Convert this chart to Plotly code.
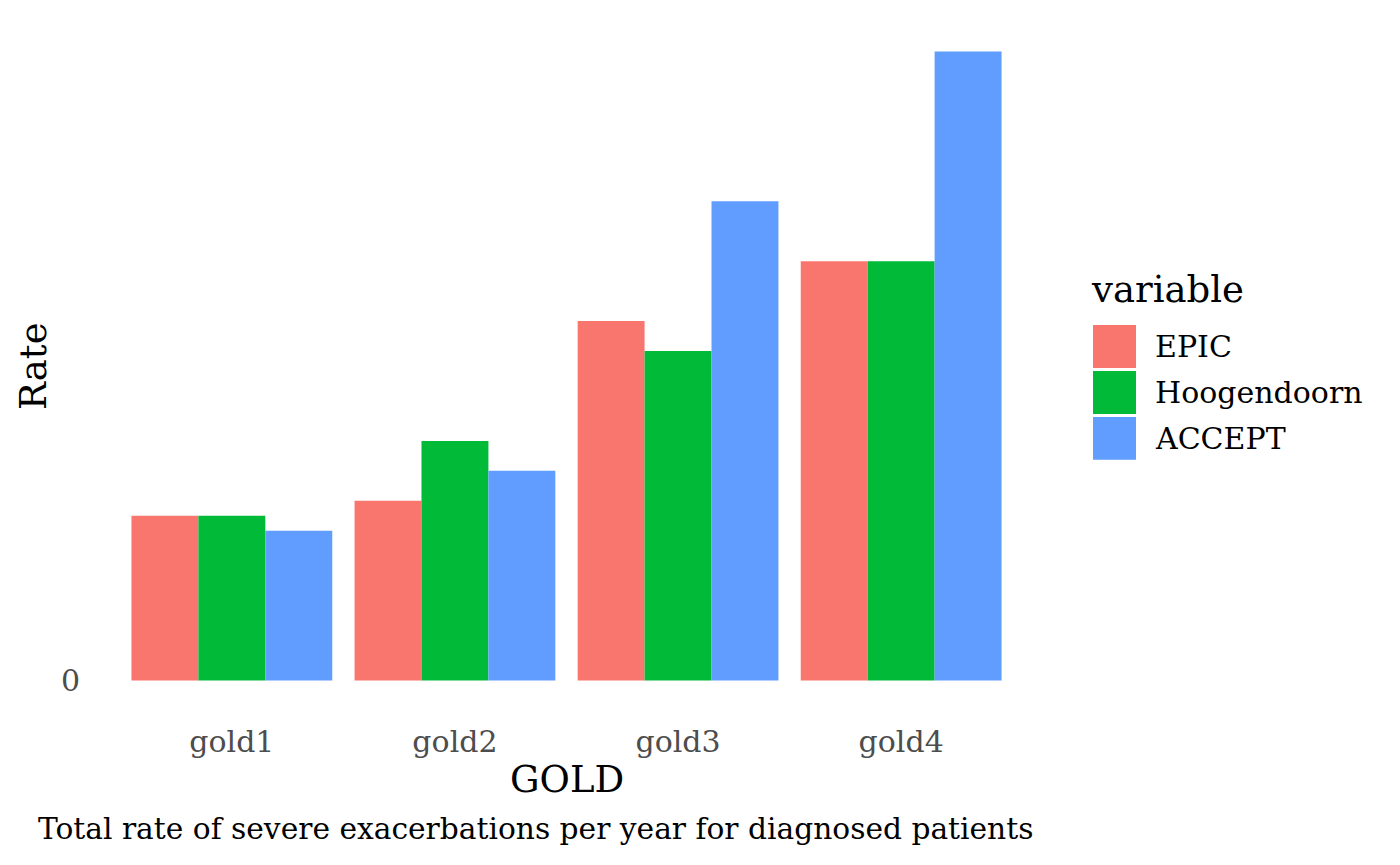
import plotly.graph_objects as go

categories = ["gold1", "gold2", "gold3", "gold4"]
series_names = ["EPIC", "Hoogendoorn", "ACCEPT"]
epic = [0.11, 0.12, 0.24, 0.28]
hoogendoorn = [0.11, 0.16, 0.22, 0.28]
accept = [0.10, 0.14, 0.32, 0.42]
colors = ["#F8766D", "#00BA38", "#619CFF"]
y_ticks = [0]
y_tick_labels = ["0"]
x_title = "GOLD"
y_title = "Rate"
legend_title = "variable"
caption = "Total rate of severe exacerbations per year for diagnosed patients"

W, H = 1400, 865
L, R, T, B = 98, 1035, 19.5, 712.5

def px_x(p):
    return (p - L) / (R - L)

def px_y(p):
    return (B - p) / (B - T)

fig = go.Figure()
for name, vals, col in zip(series_names, [epic, hoogendoorn, accept], colors):
    fig.add_trace(go.Bar(x=categories, y=vals, name=name, marker=dict(color=col, line=dict(width=0)),
                         showlegend=False))

ymax = max(max(epic), max(hoogendoorn), max(accept))
serif = "DejaVu Serif, serif"
small = 30
big = 37

fig.update_layout(
    width=W, height=H,
    margin=dict(l=L, r=W - R, t=T, b=H - B, autoexpand=False),
    paper_bgcolor="white", plot_bgcolor="white",
    barmode="group", bargap=0.1, bargroupgap=0,
    xaxis=dict(range=[-0.6, len(categories) - 0.4], showgrid=False, zeroline=False, showline=False, ticks="",
               tickfont=dict(family=serif, size=small, color="#4D4D4D"),
               ticklabelstandoff=9),
    yaxis=dict(range=[-0.05 * ymax, 1.05 * ymax], showgrid=False, zeroline=False, showline=False, ticks="",
               tickvals=y_ticks, ticktext=y_tick_labels,
               tickfont=dict(family=serif, size=small, color="#4D4D4D"),
               ticklabelstandoff=17),
)

anns = [
    dict(text=x_title, x=0.5, y=px_y(780), xref="paper", yref="paper", xanchor="center", yanchor="middle",
         showarrow=False, font=dict(family=serif, size=big, color="black")),
    dict(text=y_title, x=px_x(33), y=px_y(366), xref="paper", yref="paper", xanchor="center", yanchor="middle",
         textangle=-90, showarrow=False, font=dict(family=serif, size=big, color="black")),
    dict(text=caption, x=1, y=px_y(829), xref="paper", yref="paper", xanchor="right", yanchor="middle",
         showarrow=False, font=dict(family=serif, size=29.7, color="black")),
    dict(text=legend_title, x=px_x(1089), y=px_y(289), xref="paper", yref="paper", xanchor="left",
         yanchor="middle", showarrow=False, font=dict(family=serif, size=big, color="black")),
]
shapes = []
top = 325
for i, (name, col) in enumerate(zip(series_names, colors)):
    y0 = top + i * 46
    shapes.append(dict(type="rect", xref="paper", yref="paper", x0=px_x(1093), x1=px_x(1136),
                       y0=px_y(y0 + 43), y1=px_y(y0), fillcolor=col, line=dict(width=0)))
    anns.append(dict(text=name, x=px_x(1153), y=px_y(y0 + 21.5), xref="paper", yref="paper",
                     xanchor="left", yanchor="middle", showarrow=False,
                     font=dict(family=serif, size=small, color="black")))
fig.update_layout(annotations=anns, shapes=shapes)

fig.write_html("out.html", config={"displayModeBar": False},
               post_script="document.body.style.margin='0';")
